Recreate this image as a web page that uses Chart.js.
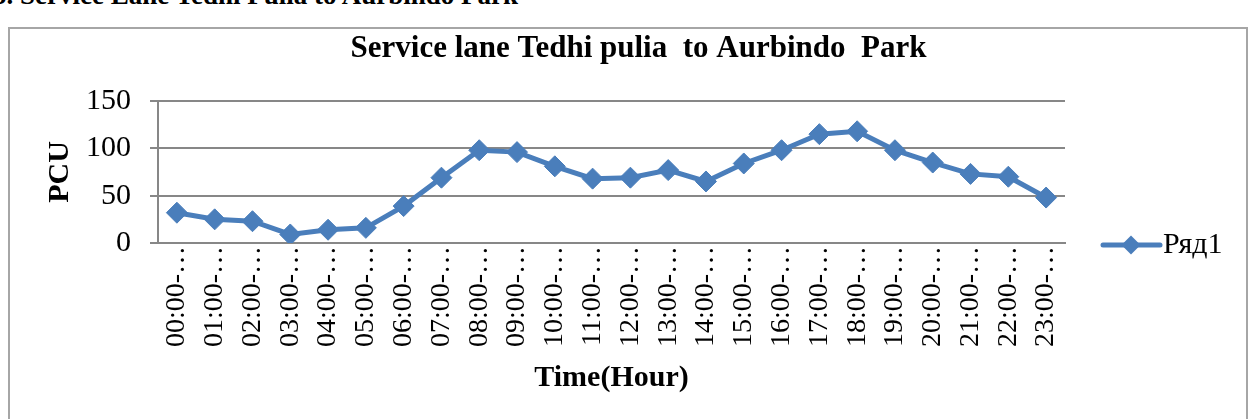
<!DOCTYPE html>
<html><head><meta charset="utf-8">
<script src="https://cdn.jsdelivr.net/npm/chart.js@4.4.0/dist/chart.umd.min.js"></script>
<style>
html,body{margin:0;padding:0;background:#fff;overflow:hidden;}
#wrap{position:relative;width:1250px;height:419px;overflow:hidden;}
#head{position:absolute;left:-7px;top:-18px;font:bold 27px "Liberation Serif";line-height:27px;white-space:nowrap;color:#000;}
canvas{position:absolute;left:0;top:0;}
</style></head><body>
<div id="wrap"><div id="head">5. Service Lane Tedhi Pulia to Aurbindo Park</div><canvas id="c" width="1250" height="419"></canvas></div>
<script>
const categories = ["00:00-01:00","01:00-02:00","02:00-03:00","03:00-04:00","04:00-05:00","05:00-06:00",
  "06:00-07:00","07:00-08:00","08:00-09:00","09:00-10:00","10:00-11:00","11:00-12:00",
  "12:00-13:00","13:00-14:00","14:00-15:00","15:00-16:00","16:00-17:00","17:00-18:00",
  "18:00-19:00","19:00-20:00","20:00-21:00","21:00-22:00","22:00-23:00","23:00-24:00"];
const seriesName = "Ряд1";
const pcuValues = [32,25,23,9,14,16,39,69,98,96,81,68,69,77,65,84,98,115,118,98,85,73,70,48];
const yTicks = [0,50,100,150];
const chartTitle = "Service lane Tedhi pulia  to Aurbindo  Park";
const xTitle = "Time(Hour)";
const yTitle = "PCU";

const BLUE = '#4a7ebb';
const GRID = '#878787';
const SERIF = '"Liberation Serif", "Times New Roman", serif';

const framePlugin = {
  id: 'frame',
  beforeDraw(chart) {
    const ctx = chart.ctx;
    ctx.save();
    ctx.strokeStyle = '#a6a6a6';
    ctx.lineWidth = 2;
    ctx.strokeRect(9, 28, 1238, 420);
    ctx.restore();
  }
};
const titleShift = {
  id: 'titleShift',
  afterLayout(chart) {
    const t = chart.titleBlock;
    if (t) { t.left += 27; t.right += 27; }
  }
};
const sideLegend = {
  id: 'sideLegend',
  afterDraw(chart) {
    const ds = chart.data.datasets[0];
    const {ctx, chartArea} = chart;
    const y = chartArea.bottom + 2;
    const x0 = chartArea.right + 38;
    ctx.save();
    ctx.strokeStyle = ds.borderColor;
    ctx.lineWidth = ds.borderWidth;
    ctx.lineCap = 'round';
    ctx.beginPath(); ctx.moveTo(x0, y); ctx.lineTo(x0 + 57, y); ctx.stroke();
    const r = 9.5, cx = x0 + 28;
    ctx.fillStyle = ds.pointBackgroundColor;
    ctx.beginPath();
    ctx.moveTo(cx, y - r); ctx.lineTo(cx + r, y); ctx.lineTo(cx, y + r); ctx.lineTo(cx - r, y);
    ctx.closePath(); ctx.fill();
    ctx.fillStyle = '#000';
    ctx.font = '30px ' + SERIF;
    ctx.textBaseline = 'middle';
    ctx.textAlign = 'left';
    ctx.fillText(ds.label, x0 + 60, y);
    ctx.restore();
  }
};

new Chart(document.getElementById('c'), {
  type: 'line',
  data: {
    labels: categories,
    datasets: [{
      label: seriesName,
      data: pcuValues,
      borderColor: BLUE,
      backgroundColor: BLUE,
      borderWidth: 5,
      pointStyle: 'rectRot',
      pointRadius: 10.5,
      pointHoverRadius: 10.5,
      pointBackgroundColor: BLUE,
      pointBorderColor: BLUE,
      pointBorderWidth: 1,
      tension: 0,
      fill: false
    }]
  },
  options: {
    responsive: false,
    animation: false,
    devicePixelRatio: 1,
    layout: { padding: { left: 0, right: 185, top: 0, bottom: 0 } },
    plugins: {
      legend: { display: false },
      tooltip: { enabled: false },
      title: {
        display: true,
        text: chartTitle,
        fullSize: false,
        color: '#000',
        font: { family: SERIF, size: 31, weight: 'bold', lineHeight: 1.2 },
        padding: { top: 30, bottom: 33.8 }
      }
    },
    scales: {
      x: {
        offset: true,
        grid: { display: false, drawTicks: false },
        border: { display: true, color: GRID, width: 2 },
        ticks: {
          autoSkip: false,
          minRotation: 90,
          maxRotation: 90,
          padding: 3,
          color: '#000',
          font: { family: SERIF, size: 28 },
          callback: function(v) { return this.getLabelForValue(v).slice(0, 6) + '…'; }
        },
        title: {
          display: true, text: xTitle, color: '#000',
          font: { family: SERIF, size: 30, weight: 'bold', lineHeight: 1.2 },
          padding: { top: 0, bottom: 23 }
        },
        afterFit: s => { s.height = 176; }
      },
      y: {
        min: 0, max: 150,
        afterBuildTicks: s => { s.ticks = yTicks.map(v => ({ value: v })); },
        grid: { color: GRID, lineWidth: 2, drawTicks: true, tickLength: 8, tickColor: GRID },
        border: { display: true, color: GRID, width: 2 },
        ticks: { padding: 19, color: '#000', font: { family: SERIF, size: 30 } },
        title: {
          display: true, text: yTitle, color: '#000',
          font: { family: SERIF, size: 30, weight: 'bold', lineHeight: 1.2 },
          padding: { top: 42, bottom: 0 }
        },
        afterFit: s => { s.width = 158; }
      }
    }
  },
  plugins: [framePlugin, titleShift, sideLegend]
});
</script>
</body></html>
